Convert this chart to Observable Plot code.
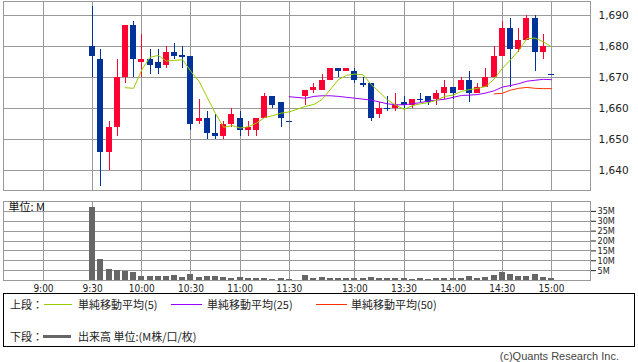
<!DOCTYPE html>
<html><head><meta charset="utf-8">
<script src="https://cdn.jsdelivr.net/npm/d3@7"></script>
<script src="https://cdn.jsdelivr.net/npm/@observablehq/plot@0.6"></script>
<style>
html,body{margin:0;padding:0;background:#fff;}
#wrap{position:relative;width:638px;height:362px;overflow:hidden;font-family:"Noto Sans CJK JP","DejaVu Sans",sans-serif;color:#222;}
#price,#vol{position:absolute;left:0;}
#price{top:0;}
#vol{top:195px;}
#price g[aria-label^="y-axis"] text{font-family:"DejaVu Sans",sans-serif;font-size:10.5px;}
#vol g[aria-label^="y-axis"] text{font-family:"DejaVu Sans Condensed","DejaVu Sans",sans-serif;font-size:9px;}
#vol g[aria-label^="x-axis"] text{font-family:"DejaVu Sans Condensed","DejaVu Sans",sans-serif;font-size:10px;}
#legend{position:absolute;left:3px;top:293px;width:632px;height:54px;box-sizing:border-box;border:1px solid #000;}
.t{position:absolute;font-size:11px;line-height:12px;white-space:nowrap;transform:translateY(-50%);}
.sw{position:absolute;height:1px;}
#copy{position:absolute;right:19px;top:350px;font-family:"Liberation Sans",sans-serif;font-size:11px;line-height:12px;color:#444;}
</style></head>
<body><div id="wrap">
<div id="price"></div>
<div id="vol"></div>
<div id="legend"></div>
<div id="copy">(c)Quants Research Inc.</div>
</div>
<script>
// 5-minute slot index: 9:00 = 0, each step = 5 minutes (lunch break compressed)
const slots = [6,7,8,9,10,11,12,13,14,15,16,17,18,19,20,21,22,23,24,25,26,27,28,29,30,
  32,33,34,35,36,37,38,39,40,41,42,43,44,45,46,47,48,49,50,51,52,53,54,55,56,57,58,59,60,61,62];
const openP = [1680,1676,1646,1654,1670,1687,1675,1676,1675,1674,1678,1677,1677,1656,1657,1652,1651,1655,1657,1653,1653,1657,1664,1662,1656,
  1664,1666,1666,1669,1673,1672,1672,1668,1668,1658,1660,1660,1662,1661,1663,1664,1663,1665,1667,1666,1669,1665,1667,1670,1677,1686,1679,1682,1689,1678,1671];
const highP = [1693,1679,1656,1676,1687,1688,1684,1679,1679,1680,1681,1680,1677,1663,1659,1658,1656,1660,1659,1656,1657,1665,1664,1662,1656,
  1666,1668,1671,1673,1673,1673,1673,1670,1668,1662,1664,1665,1664,1663,1665,1664,1666,1669,1667,1670,1672,1668,1673,1680,1688,1689,1686,1690,1690,1684,1671];
const lowP = [1670,1635,1640,1651,1668,1670,1670,1671,1671,1673,1676,1673,1653,1655,1650,1650,1650,1654,1651,1651,1651,1657,1660,1654,1656,
  1661,1665,1666,1669,1670,1672,1668,1667,1656,1657,1659,1659,1660,1660,1662,1661,1661,1663,1663,1666,1662,1665,1667,1670,1677,1667,1678,1682,1672,1676,1671];
const closeP = [1677,1646,1654,1670,1687,1676,1676,1674,1673,1678,1677,1677,1655,1657,1652,1651,1655,1658,1653,1654,1657,1664,1661,1657,1656,
  1666,1667,1669,1673,1672,1673,1669,1668,1657,1660,1660,1661,1661,1663,1663,1662,1665,1667,1665,1669,1665,1667,1670,1677,1686,1679,1682,1689,1678,1680,1671];
const volumeM = [37.2,10.8,5.8,5.1,4.6,3.8,1.9,1.9,1.9,1.9,2.4,1.4,2.8,1.4,1.9,1.9,1.4,0.9,1.4,0.9,0.9,0.9,0.6,0.9,0.6,
  2.4,0.8,1.3,0.8,0.8,0.8,0.8,0.8,1.4,0.8,0.8,0.8,0.8,0.3,0.8,0.3,0.8,0.8,0.8,0.8,1.8,0.8,1.4,2.3,3.8,2.8,1.8,1.8,2.8,1.3,0.8];
// moving averages as drawn (starting at 5th / 25th / ~49th bar)
const ma5 = [1666.8,1666.6,1672.6,1676.6,1677.2,1675.4,1675.6,1675.8,1672.0,1668.8,1663.6,1658.4,1654.0,1654.6,1653.8,1654.2,1655.4,1657.2,1657.8,1658.6,1659.0,
  1660.8,1661.4,1663.0,1666.2,1669.4,1670.8,1671.2,1671.0,1667.8,1665.4,1662.8,1661.2,1659.8,1661.0,1661.6,1662.0,1662.8,1664.0,1664.4,1665.6,1666.2,1666.6,1667.2,1669.6,1673.0,1675.8,1678.8,1682.6,1682.8,1681.6,1680.0];
const ma25 = [1663.9,1663.4,1664.0,1664.2,1664.2,1664.0,1663.7,1663.4,1663.1,1662.8,1662.2,1661.6,1661.3,1661.3,1661.6,1662.0,1662.5,1662.8,1663.1,1663.7,1664.3,1664.4,1664.6,1665.1,1665.8,1667.0,1667.5,1668.1,1668.9,1669.2,1669.5,1669.4];
const ma50 = [1664.8,1665.0,1666.0,1666.6,1666.9,1666.6,1666.5,1666.5];
const timeTickSlots = [0,6,12,18,24,30,38,44,50,56,62];
const timeTickLabels = ["9:00","9:30","10:00","10:30","11:00","11:30","13:00","13:30","14:00","14:30","15:00"];
const priceTicks = [1640,1650,1660,1670,1680,1690];
const volTicks = [5,10,15,20,25,30,35];

const RED = "#ff0033", BLUE = "#003399", GRID = "#9a9a9a";
const C5 = "#99cc00", C25 = "#9900ff", C50 = "#ff3300", VOLC = "#666666";
const half = 0.366;
const xDomain = [-4.88, 66.76];

const bars = slots.map((s, i) => ({slot: s, open: openP[i], high: highP[i], low: lowP[i], close: closeP[i], vol: volumeM[i]}));
const up = bars.filter(d => d.close > d.open);
const down = bars.filter(d => d.close < d.open);
const flat = bars.filter(d => d.close === d.open);
const line5 = ma5.map((v, i) => ({slot: slots[i + 4], v}));
const line25 = ma25.map((v, i) => ({slot: slots[i + 24], v}));
const line50 = ma50.map((v, i) => ({slot: slots[i + 48], v}));
const tickLabel = d => timeTickLabels[timeTickSlots.indexOf(d)];

const price = Plot.plot({
  width: 638, height: 192,
  marginLeft: 3, marginRight: 48, marginTop: 1, marginBottom: 2,
  style: {background: "transparent", color: "#222", fontFamily: "DejaVu Sans", fontSize: "10.5px"},
  x: {domain: xDomain, axis: null},
  y: {domain: [1633.65, 1694.6], axis: "right", ticks: priceTicks, tickFormat: d3.format(","), tickSize: 0, tickPadding: 8, label: null},
  marks: [
    Plot.ruleY(priceTicks, {stroke: GRID, shapeRendering: "crispEdges"}),
    Plot.ruleX(timeTickSlots, {stroke: GRID, shapeRendering: "crispEdges"}),
    Plot.frame({stroke: GRID, shapeRendering: "crispEdges"}),
    Plot.ruleX(up, {x: "slot", y1: "low", y2: "high", stroke: RED, shapeRendering: "crispEdges"}),
    Plot.ruleX(down.concat(flat), {x: "slot", y1: "low", y2: "high", stroke: BLUE, shapeRendering: "crispEdges"}),
    Plot.rect(up, {x1: d => d.slot - half, x2: d => d.slot + half, y1: "open", y2: "close", fill: RED, shapeRendering: "crispEdges"}),
    Plot.rect(down, {x1: d => d.slot - half, x2: d => d.slot + half, y1: "open", y2: "close", fill: BLUE, shapeRendering: "crispEdges"}),
    Plot.ruleY(flat, {x1: d => d.slot - half, x2: d => d.slot + half, y: "close", stroke: BLUE, strokeWidth: 1.2, shapeRendering: "crispEdges"}),
    Plot.line(line50, {x: "slot", y: "v", stroke: C50, strokeWidth: 1}),
    Plot.line(line25, {x: "slot", y: "v", stroke: C25, strokeWidth: 1}),
    Plot.line(line5, {x: "slot", y: "v", stroke: C5, strokeWidth: 1})
  ]
});
document.getElementById("price").append(price);

const vol = Plot.plot({
  width: 638, height: 100,
  marginLeft: 3, marginRight: 48, marginTop: 6, marginBottom: 15,
  style: {background: "transparent", color: "#222", fontFamily: "DejaVu Sans Condensed", fontSize: "10px"},
  x: {domain: xDomain, axis: "bottom", ticks: timeTickSlots, tickFormat: tickLabel, tickSize: 0, tickPadding: 4, label: null},
  y: {domain: [0, 40], axis: "right", ticks: volTicks, tickFormat: d => d + "M", tickSize: 5, tickPadding: 2, label: null},
  marks: [
    Plot.ruleY(volTicks, {stroke: GRID, shapeRendering: "crispEdges"}),
    Plot.ruleX(timeTickSlots, {stroke: GRID, shapeRendering: "crispEdges"}),
    Plot.frame({stroke: GRID, shapeRendering: "crispEdges"}),
    Plot.rect(bars, {x1: d => d.slot - half, x2: d => d.slot + half, y1: 0, y2: "vol", fill: VOLC, shapeRendering: "crispEdges"}),
    Plot.text(["単位: M"], {frameAnchor: "top-left", dx: 5, dy: 2, fontSize: 11, fontFamily: "Noto Sans CJK JP", fill: "#111"})
  ]
});
document.getElementById("vol").append(vol);

// legend (page coordinates relative to #wrap, converted into the box)
const legendItems = [
  {row: 0, kind: "text", x: 10, text: "上段："},
  {row: 0, kind: "line", x: 44, w: 28, color: C5, h: 1},
  {row: 0, kind: "text", x: 78, text: "単純移動平均(5)"},
  {row: 0, kind: "line", x: 171, w: 31, color: C25, h: 1},
  {row: 0, kind: "text", x: 207, text: "単純移動平均(25)"},
  {row: 0, kind: "line", x: 316, w: 31, color: C50, h: 1},
  {row: 0, kind: "text", x: 351, text: "単純移動平均(50)"},
  {row: 1, kind: "text", x: 10, text: "下段："},
  {row: 1, kind: "line", x: 43, w: 28, color: VOLC, h: 3},
  {row: 1, kind: "text", x: 78, text: "出来高 単位:(M株/口/枚)"}
];
const rowsY = [304, 336];
const lg = document.getElementById("legend");
for (const it of legendItems) {
  const el = document.createElement("div");
  const top = rowsY[it.row] - 294;
  const left = it.x - 4;
  if (it.kind === "text") {
    el.className = "t"; el.textContent = it.text;
    el.style.left = left + "px"; el.style.top = top + "px";
  } else {
    el.className = "sw";
    el.style.left = left + "px"; el.style.top = (top - Math.floor(it.h / 2)) + "px";
    el.style.width = it.w + "px"; el.style.height = it.h + "px"; el.style.background = it.color;
  }
  lg.append(el);
}
</script>
</body></html>
